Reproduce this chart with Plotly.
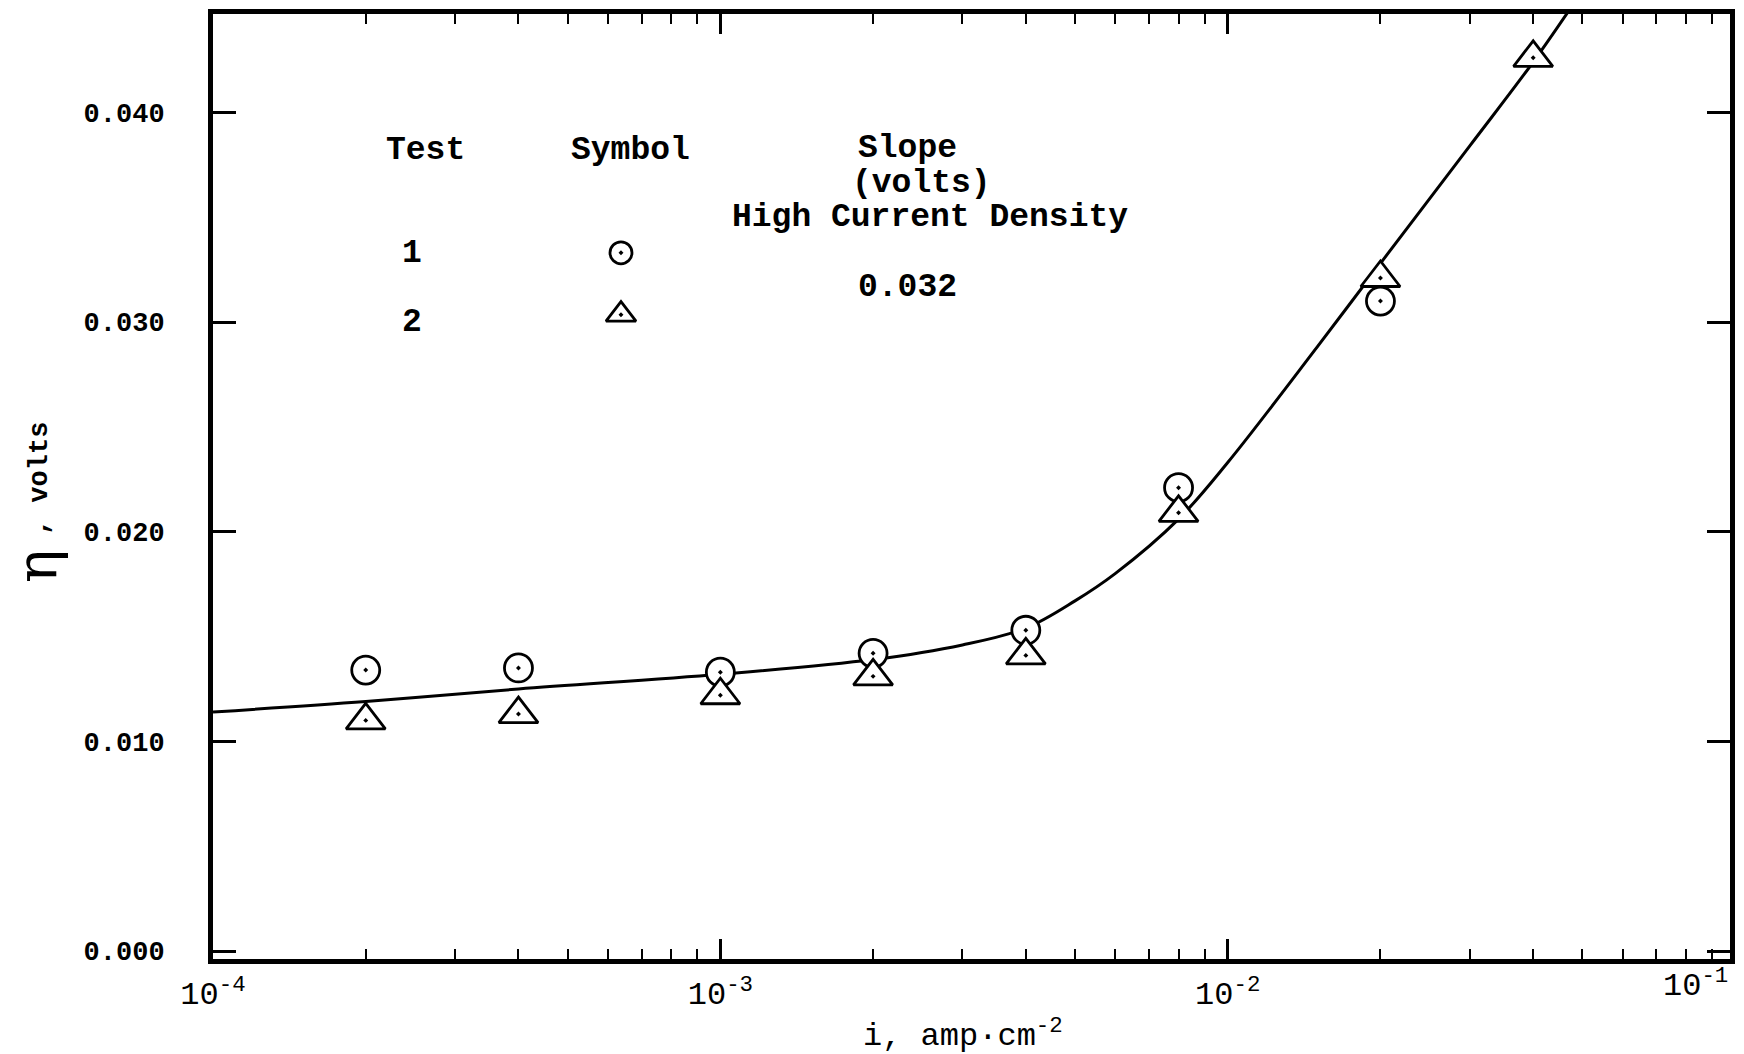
import plotly.graph_objects as go

# ---- data ----
i_test1 = [2e-4, 4e-4, 1e-3, 2e-3, 4e-3, 8e-3, 2e-2]
eta_test1 = [0.0134, 0.0135, 0.0133, 0.0142, 0.0153, 0.0221, 0.0310]

i_test2 = [2e-4, 4e-4, 1e-3, 2e-3, 4e-3, 8e-3, 2e-2, 4e-2]
eta_test2 = [0.0110, 0.0113, 0.0122, 0.0131, 0.0141, 0.0209, 0.0321, 0.0426]

curve_i = [1e-4, 2e-4, 4e-4, 1e-3, 2e-3, 3e-3, 4e-3, 5e-3, 6e-3, 8e-3,
           1e-2, 1.5e-2, 2e-2, 3e-2, 4e-2, 5e-2]
curve_eta = [0.0114, 0.0119, 0.0125, 0.0132, 0.0139, 0.0146, 0.0154, 0.0167, 0.0180, 0.0206,
             0.0233, 0.0288, 0.0328, 0.0384, 0.0424, 0.0458]

x_tick_vals = [1e-4, 1e-3, 1e-2]
x_tick_text = ["10<sup>-4</sup>", "10<sup>-3</sup>", "10<sup>-2</sup>"]
y_tick_vals = [0.0, 0.01, 0.02, 0.03, 0.04]

legend_tests = ["1", "2"]
legend_slope = "0.032"

# legend symbol anchor points (in data space)
legend_sym_i = 6.37e-4
legend_sym_eta = [0.0333, 0.03035]

FONT = "Liberation Mono"

fig = go.Figure()

fig.add_trace(go.Scatter(
    x=curve_i, y=curve_eta, mode="lines",
    line=dict(color="black", width=3, shape="spline", smoothing=1.0),
    hoverinfo="skip", showlegend=False))

fig.add_trace(go.Scatter(
    x=i_test1, y=eta_test1, mode="markers",
    marker=dict(symbol="circle-dot", size=28, color="white",
                line=dict(color="black", width=2.8)),
    showlegend=False, cliponaxis=False))

fig.add_trace(go.Scatter(
    x=i_test2, y=eta_test2, mode="markers",
    marker=dict(symbol="triangle-up-dot", size=34, color="white",
                line=dict(color="black", width=2.8)),
    showlegend=False, cliponaxis=False))

# legend-table symbols
fig.add_trace(go.Scatter(
    x=[legend_sym_i], y=[legend_sym_eta[0]], mode="markers",
    marker=dict(symbol="circle-dot", size=22, color="white",
                line=dict(color="black", width=2.8)),
    showlegend=False))
fig.add_trace(go.Scatter(
    x=[legend_sym_i], y=[legend_sym_eta[1]], mode="markers",
    marker=dict(symbol="triangle-up-dot", size=26, color="white",
                line=dict(color="black", width=2.8)),
    showlegend=False))

L, R, T, B = 213, 9, 13, 95
W, H = 1744, 1054
PW, PH = W - L - R, H - T - B


def px(xp):
    return (xp - L) / PW


def py(yp):
    return (T + PH - yp) / PH


ann_font = dict(family=FONT, size=33, color="black", weight="bold")
annotations = [
    dict(text="Test", x=px(385), y=py(150), xanchor="left"),
    dict(text="Symbol", x=px(570), y=py(150), xanchor="left"),
    dict(text=legend_tests[0], x=px(413), y=py(253), xanchor="center"),
    dict(text=legend_tests[1], x=px(413), y=py(322), xanchor="center"),
    dict(text="Slope", x=px(858), y=py(148), xanchor="left"),
    dict(text="(volts)", x=px(852), y=py(183), xanchor="left"),
    dict(text="High Current Density", x=px(732), y=py(217), xanchor="left"),
    dict(text=legend_slope, x=px(858), y=py(287), xanchor="left"),
]
for a in annotations:
    a.update(xref="paper", yref="paper", yanchor="middle", showarrow=False, font=ann_font)

annotations.append(dict(
    text="10<sup>-1</sup>", x=1.0, y=0, xref="paper", yref="paper",
    xanchor="right", yanchor="top", yshift=-2, showarrow=False,
    font=dict(family=FONT, size=32, color="black")))
annotations.append(dict(
    text="i, amp\u00b7cm<sup>-2</sup>", x=px(965), y=py(1034), xref="paper", yref="paper",
    xanchor="center", yanchor="middle", showarrow=False,
    font=dict(family=FONT, size=32, color="black")))
# y-axis title: large eta plus ", volts"
annotations.append(dict(
    text=", volts", x=px(39), y=py(478), xref="paper", yref="paper", textangle=-90,
    xanchor="center", yanchor="middle", showarrow=False,
    font=dict(family=FONT, size=27, color="black", weight="bold")))
annotations.append(dict(
    text="\u03b7", x=px(36), y=py(566), xref="paper", yref="paper", textangle=-90,
    xanchor="center", yanchor="middle", showarrow=False,
    font=dict(family="DejaVu Serif", size=56, color="black")))

minor_x = [m * 10 ** e for e in (-4, -3, -2) for m in range(2, 10)]

fig.update_layout(
    width=W, height=H,
    margin=dict(l=L, r=R, t=T, b=B, pad=0),
    paper_bgcolor="white", plot_bgcolor="white",
    annotations=annotations,
    xaxis=dict(
        type="log", range=[-4, -1.01],
        tickmode="array", tickvals=x_tick_vals, ticktext=x_tick_text,
        ticks="inside", ticklen=20, tickwidth=3, tickcolor="black",
        minor=dict(tickvals=minor_x, ticks="inside", ticklen=10, tickwidth=2,
                   tickcolor="black", showgrid=False),
        showline=True, linewidth=5, linecolor="black", mirror="allticks",
        showgrid=False, zeroline=False,
        tickfont=dict(family=FONT, size=32, color="black"),
        ticklabelstandoff=2,
    ),
    yaxis=dict(
        range=[-0.00038, 0.04469],
        tickmode="array", tickvals=y_tick_vals, tickformat=".3f",
        ticks="inside", ticklen=23, tickwidth=3, tickcolor="black",
        showline=True, linewidth=5, linecolor="black", mirror="allticks",
        showgrid=False, zeroline=False,
        tickfont=dict(family=FONT, size=27, color="black", weight="bold"),
        ticklabelstandoff=38,
    ),
)

fig.write_html("out.html")
